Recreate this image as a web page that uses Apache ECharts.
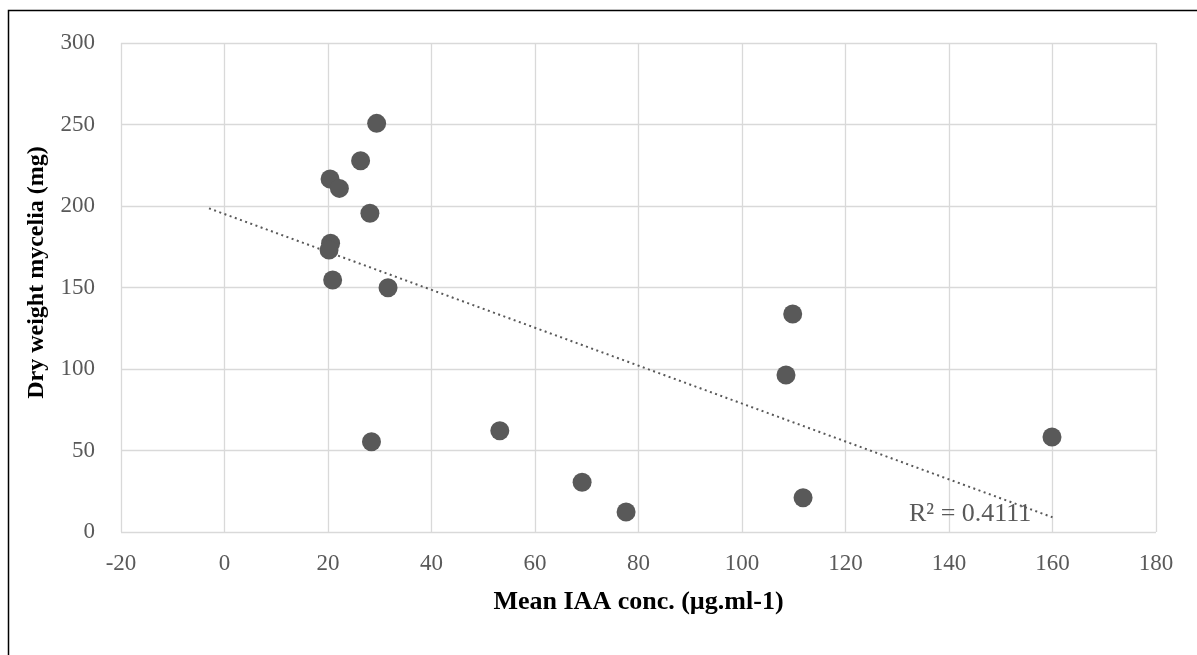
<!DOCTYPE html>
<html>
<head>
<meta charset="utf-8">
<script src="https://cdn.jsdelivr.net/npm/echarts@6/dist/echarts.min.js"></script>
<style>
  html, body { margin: 0; padding: 0; background: #ffffff; }
  #chart { width: 1197px; height: 655px; }
</style>
</head>
<body>
<div id="chart"></div>
<script>
// Mean IAA concentration (µg/ml) of each isolate
const iaaConc = [29.4, 26.3, 20.4, 22.2, 28.1, 20.5, 20.2, 20.9, 31.6,
                 28.4, 53.2, 69.1, 77.6, 109.8, 108.5, 111.8, 159.9];
// Dry weight of mycelia (mg) of each isolate
const dryWeight = [250.7, 227.8, 216.6, 210.8, 195.5, 177.1, 173.0, 154.6, 149.9,
                   55.4, 62.1, 30.5, 12.3, 133.7, 96.3, 21.0, 58.3];

// Axis ranges
const xRange = { min: -20, max: 180, step: 20 };
const yRange = { min: 0, max: 300, step: 50 };

// Linear trendline extent (x) and its reported fit
const trendFrom = -3;
const trendTo = 160;
const rSquaredText = 'R² = 0.4111';

const xTitle = 'Mean IAA conc. (µg.ml-1)';
const yTitle = 'Dry weight mycelia (mg)';

// Least-squares fit of dry weight on IAA concentration
function linearFit(xs, ys) {
  const n = xs.length;
  const mx = xs.reduce((a, b) => a + b, 0) / n;
  const my = ys.reduce((a, b) => a + b, 0) / n;
  let sxy = 0, sxx = 0;
  for (let i = 0; i < n; i++) {
    sxy += (xs[i] - mx) * (ys[i] - my);
    sxx += (xs[i] - mx) * (xs[i] - mx);
  }
  const slope = sxy / sxx;
  return { slope, intercept: my - slope * mx };
}
const fit = linearFit(iaaConc, dryWeight);
const trendPoints = [trendFrom, trendTo].map(x => [x, fit.intercept + fit.slope * x]);
const points = iaaConc.map((x, i) => [x, dryWeight[i]]);

const serif = "'Liberation Serif', 'Times New Roman', serif";
const gridColor = '#d9d9d9';
const inkGray = '#595959';

const chart = echarts.init(document.getElementById('chart'), null, { renderer: 'canvas' });
chart.setOption({
  animation: false,
  backgroundColor: '#ffffff',
  grid: { left: 121, right: 41, top: 43, bottom: 123, containLabel: false },
  xAxis: {
    type: 'value',
    min: xRange.min, max: xRange.max, interval: xRange.step,
    name: xTitle,
    nameLocation: 'middle',
    nameGap: 57,
    nameTextStyle: { fontFamily: serif, fontWeight: 'bold', fontSize: 26, color: '#000000' },
    axisLine: { show: false },
    axisTick: { show: false },
    axisLabel: { fontFamily: serif, fontSize: 23, color: inkGray, margin: 20 },
    splitLine: { show: true, lineStyle: { color: gridColor, width: 1.3 } }
  },
  yAxis: {
    type: 'value',
    min: yRange.min, max: yRange.max, interval: yRange.step,
    name: yTitle,
    nameLocation: 'middle',
    nameGap: 72,
    nameTextStyle: { fontFamily: serif, fontWeight: 'bold', fontSize: 24, color: '#000000', padding: [0, 0, 0, 30] },
    axisLine: { show: false },
    axisTick: { show: false },
    axisLabel: { fontFamily: serif, fontSize: 23, color: inkGray, margin: 26 },
    splitLine: { show: true, lineStyle: { color: gridColor, width: 1.3 } }
  },
  series: [
    {
      name: 'Trendline',
      type: 'line',
      data: trendPoints,
      symbol: 'none',
      silent: true,
      lineStyle: { color: inkGray, width: 2, type: [2, 3.5] },
      z: 3
    },
    {
      name: 'Isolates',
      type: 'scatter',
      data: points,
      symbol: 'circle',
      symbolSize: 19,
      itemStyle: { color: inkGray, opacity: 1 },
      z: 4
    }
  ],
  graphic: [
    {
      type: 'rect',
      silent: true,
      shape: { x: 8.5, y: 10.5, width: 1250, height: 700 },
      style: { fill: 'none', stroke: '#000000', lineWidth: 1.5 }
    },
    {
      type: 'text',
      silent: true,
      x: 909, y: 514,
      style: {
        text: rSquaredText,
        font: "26px 'Liberation Serif', 'Times New Roman', serif",
        fill: inkGray,
        align: 'left',
        verticalAlign: 'middle'
      },
      z: 5
    }
  ]
});
</script>
</body>
</html>
